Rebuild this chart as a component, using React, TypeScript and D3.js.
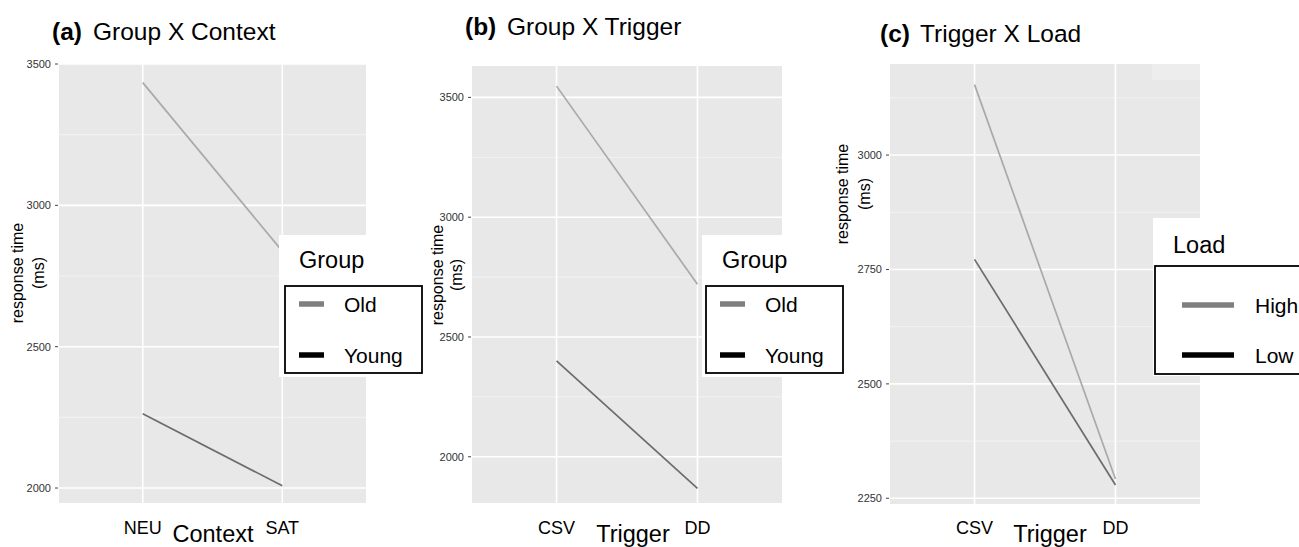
import React, { useEffect, useRef } from "react";
import * as d3 from "d3";

// values (response time, ms)
const contextLevels = ["NEU", "SAT"];
const triggerLevels = ["CSV", "DD"];

const oldByContext = [3434, 2838];
const youngByContext = [2263, 2008];
const oldByTrigger = [3547, 2720];
const youngByTrigger = [2400, 1868];
const highByTrigger = [3154, 2292];
const lowByTrigger = [2772, 2279];

const groupLabels = ["Old", "Young"];
const loadLabels = ["High", "Low"];

const ticksAB = [2000, 2500, 3000, 3500];
const minorAB = [2250, 2750, 3250];
const ticksC = [2250, 2500, 2750, 3000];
const minorC = [2375, 2625, 2875, 3125];

const FONT = "'Liberation Sans', Arial, sans-serif";
const LIGHT_LINE = "#a9a9a9";
const DARK_LINE = "#6c6c6c";
const KEY_COLORS = ["#7f7f7f", "#000000"];

interface LegendSpec {
  title: string;
  labels: string[];
  bg: [number, number, number, number];
  box: [number, number, number, number];
  titleX: number;
  titleY: number;
  keyX: number;
  keyW: number;
  keyYs: number[];
  textX: number;
}

interface PanelSpec {
  tag: string;
  title: string;
  tagX: number;
  textX: number;
  titleY: number;
  left: number;
  right: number;
  top: number;
  bottom: number;
  domain: [number, number];
  levels: string[];
  ticks: number[];
  minor: number[];
  xTitle: string;
  xTitleX: number;
  yTitle: { x: number; msX: number; y: number };
  series: { values: number[]; color: string }[];
  legend: LegendSpec;
  patch?: [number, number, number, number];
}

const panels: PanelSpec[] = [
  {
    tag: "(a)",
    title: "Group X Context",
    tagX: 52,
    textX: 93,
    titleY: 40,
    left: 59,
    right: 366,
    top: 64,
    bottom: 503,
    domain: [1947, 3500],
    levels: contextLevels,
    ticks: ticksAB,
    minor: minorAB,
    xTitle: "Context",
    xTitleX: 213,
    yTitle: { x: 17, msX: 38, y: 273 },
    series: [
      { values: oldByContext, color: LIGHT_LINE },
      { values: youngByContext, color: DARK_LINE },
    ],
    legend: {
      title: "Group",
      labels: groupLabels,
      bg: [279, 235, 146, 142],
      box: [285, 286, 137, 87],
      titleX: 299,
      titleY: 268,
      keyX: 299,
      keyW: 25,
      keyYs: [304, 355],
      textX: 344,
    },
  },
  {
    tag: "(b)",
    title: "Group X Trigger",
    tagX: 465,
    textX: 507,
    titleY: 35,
    left: 472,
    right: 782,
    top: 66,
    bottom: 503,
    domain: [1807, 3631],
    levels: triggerLevels,
    ticks: ticksAB,
    minor: minorAB,
    xTitle: "Trigger",
    xTitleX: 633,
    yTitle: { x: 437, msX: 456, y: 275 },
    series: [
      { values: oldByTrigger, color: LIGHT_LINE },
      { values: youngByTrigger, color: DARK_LINE },
    ],
    legend: {
      title: "Group",
      labels: groupLabels,
      bg: [702, 235, 146, 142],
      box: [706, 286, 137, 87],
      titleX: 722,
      titleY: 268,
      keyX: 720,
      keyW: 25,
      keyYs: [304, 355],
      textX: 765,
    },
  },
  {
    tag: "(c)",
    title: "Trigger X Load",
    tagX: 880,
    textX: 920,
    titleY: 42,
    left: 890,
    right: 1200,
    top: 64,
    bottom: 504,
    domain: [2237.5, 3199],
    levels: triggerLevels,
    ticks: ticksC,
    minor: minorC,
    xTitle: "Trigger",
    xTitleX: 1050,
    yTitle: { x: 842, msX: 864, y: 194 },
    series: [
      { values: highByTrigger, color: LIGHT_LINE },
      { values: lowByTrigger, color: DARK_LINE },
    ],
    legend: {
      title: "Load",
      labels: loadLabels,
      bg: [1153, 218, 160, 158],
      box: [1155, 266, 160, 108],
      titleX: 1173,
      titleY: 253,
      keyX: 1182,
      keyW: 52,
      keyYs: [305, 355],
      textX: 1255,
    },
    patch: [1152, 64, 48, 16],
  },
];

const App = () => {
  const ref = useRef<SVGSVGElement | null>(null);

  useEffect(() => {
    const svg = d3.select(ref.current);
    svg.selectAll("*").remove();

    panels.forEach((p) => {
      const g = svg.append("g");
      const y = d3.scaleLinear().domain(p.domain).range([p.bottom, p.top]);
      const x = d3
        .scalePoint<string>()
        .domain(p.levels)
        .range([p.left, p.right])
        .padding(0.6);

      // title
      g.append("text")
        .attr("x", p.tagX)
        .attr("y", p.titleY)
        .attr("font-size", 24.5)
        .attr("font-weight", "bold")
        .text(p.tag);
      g.append("text")
        .attr("x", p.textX)
        .attr("y", p.titleY)
        .attr("font-size", 24.5)
        .text(p.title);

      // panel + grid
      g.append("rect")
        .attr("x", p.left)
        .attr("y", p.top)
        .attr("width", p.right - p.left)
        .attr("height", p.bottom - p.top)
        .attr("fill", "#e8e8e8");
      if (p.patch) {
        const [px, py, pw, ph] = p.patch;
        g.append("rect")
          .attr("x", px)
          .attr("y", py)
          .attr("width", pw)
          .attr("height", ph)
          .attr("fill", "#ededed");
      }
      g.selectAll("line.minor")
        .data(p.minor)
        .enter()
        .append("line")
        .attr("x1", p.left)
        .attr("x2", p.right)
        .attr("y1", (d) => y(d))
        .attr("y2", (d) => y(d))
        .attr("stroke", "#f4f4f4")
        .attr("stroke-width", 0.9);
      g.selectAll("line.major")
        .data(p.ticks)
        .enter()
        .append("line")
        .attr("x1", p.left)
        .attr("x2", p.right)
        .attr("y1", (d) => y(d))
        .attr("y2", (d) => y(d))
        .attr("stroke", "#ffffff")
        .attr("stroke-width", 1.6);
      g.selectAll("line.vert")
        .data(p.levels)
        .enter()
        .append("line")
        .attr("x1", (d) => x(d)!)
        .attr("x2", (d) => x(d)!)
        .attr("y1", p.top)
        .attr("y2", p.bottom)
        .attr("stroke", "#ffffff")
        .attr("stroke-width", 1.6);

      // series
      const line = d3
        .line<number>()
        .x((_, i) => x(p.levels[i])!)
        .y((d) => y(d));
      p.series.forEach((s) => {
        g.append("path")
          .attr("d", line(s.values))
          .attr("fill", "none")
          .attr("stroke", s.color)
          .attr("stroke-width", 1.7);
      });

      // y axis
      const yTicks = g.selectAll("g.ytick").data(p.ticks).enter().append("g");
      yTicks
        .append("line")
        .attr("x1", p.left - 4)
        .attr("x2", p.left - 1)
        .attr("y1", (d) => y(d))
        .attr("y2", (d) => y(d))
        .attr("stroke", "#444")
        .attr("stroke-width", 1);
      yTicks
        .append("text")
        .attr("x", p.left - 8)
        .attr("y", (d) => y(d))
        .attr("dy", "0.35em")
        .attr("text-anchor", "end")
        .attr("font-size", 11)
        .attr("fill", "#333")
        .text((d) => d);

      g.append("text")
        .attr("transform", `translate(${p.yTitle.x}, ${p.yTitle.y}) rotate(-90)`)
        .attr("text-anchor", "middle")
        .attr("dominant-baseline", "central")
        .attr("font-size", 16)
        .text("response time");
      g.append("text")
        .attr("transform", `translate(${p.yTitle.msX}, ${p.yTitle.y}) rotate(-90)`)
        .attr("text-anchor", "middle")
        .attr("dominant-baseline", "central")
        .attr("font-size", 16)
        .text("(ms)");

      // x axis
      g.selectAll("text.xtick")
        .data(p.levels)
        .enter()
        .append("text")
        .attr("x", (d) => x(d)!)
        .attr("y", 534)
        .attr("text-anchor", "middle")
        .attr("font-size", 18)
        .text((d) => d);
      g.append("text")
        .attr("x", p.xTitleX)
        .attr("y", 542)
        .attr("text-anchor", "middle")
        .attr("font-size", 23.5)
        .text(p.xTitle);

      // legend
      const L = p.legend;
      g.append("rect")
        .attr("x", L.bg[0])
        .attr("y", L.bg[1])
        .attr("width", L.bg[2])
        .attr("height", L.bg[3])
        .attr("fill", "#ffffff");
      g.append("rect")
        .attr("x", L.box[0])
        .attr("y", L.box[1])
        .attr("width", L.box[2])
        .attr("height", L.box[3])
        .attr("fill", "#ffffff")
        .attr("stroke", "#000")
        .attr("stroke-width", 1.8);
      g.append("text")
        .attr("x", L.titleX)
        .attr("y", L.titleY)
        .attr("font-size", 23.5)
        .text(L.title);
      L.labels.forEach((lab, i) => {
        g.append("line")
          .attr("x1", L.keyX)
          .attr("x2", L.keyX + L.keyW)
          .attr("y1", L.keyYs[i])
          .attr("y2", L.keyYs[i])
          .attr("stroke", KEY_COLORS[i])
          .attr("stroke-width", 5.5);
        g.append("text")
          .attr("x", L.textX)
          .attr("y", L.keyYs[i] + 7.5)
          .attr("font-size", 21)
          .text(lab);
      });
    });
  }, []);

  return (
    <svg
      ref={ref}
      width={1299}
      height={547}
      style={{ position: "absolute", left: 0, top: 0, background: "#fff", fontFamily: FONT }}
    />
  );
};

export default App;
